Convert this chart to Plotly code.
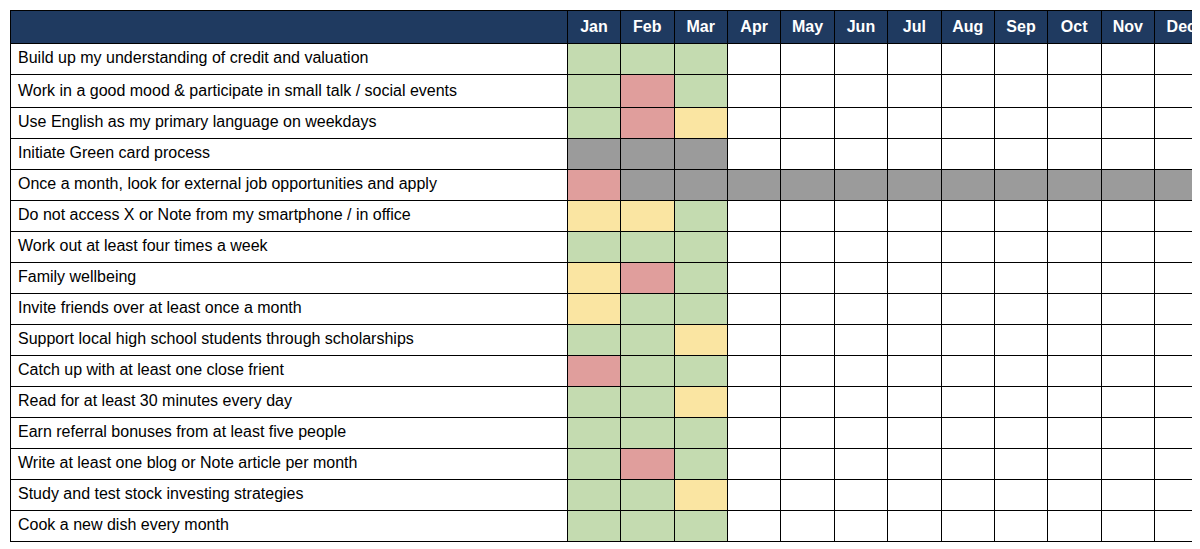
import plotly.graph_objects as go

months = ["Jan", "Feb", "Mar", "Apr", "May", "Jun", "Jul", "Aug", "Sep", "Oct", "Nov", "Dec"]
goals = [
    "Build up my understanding of credit and valuation",
    "Work in a good mood & participate in small talk / social events",
    "Use English as my primary language on weekdays",
    "Initiate Green card process",
    "Once a month, look for external job opportunities and apply",
    "Do not access X or Note from my smartphone / in office",
    "Work out at least four times a week",
    "Family wellbeing",
    "Invite friends over at least once a month",
    "Support local high school students through scholarships",
    "Catch up with at least one close frient",
    "Read for at least 30 minutes every day",
    "Earn referral bonuses from at least five people",
    "Write at least one blog or Note article per month",
    "Study and test stock investing strategies",
    "Cook a new dish every month",
]
# g = achieved, y = partly, r = missed, x = not applicable, "" = not yet
status = [
    "ggg", "grg", "gry", "xxx", "rxxxxxxxxxxx", "yyg", "ggg", "yrg",
    "ygg", "ggy", "rgg", "ggy", "ggg", "grg", "ggy", "ggg",
]

palette = {"g": "#c4dbb0", "y": "#fae5a2", "r": "#e09e9c", "x": "#9b9b9b", "": "white"}

grid = [list(s) + [""] * (12 - len(s)) for s in status]
month_fills = [[palette[grid[r][c]] for r in range(len(goals))] for c in range(12)]
month_text = [["" for _ in goals] for _ in months]

fig = go.Figure(go.Table(
    columnwidth=[550] + [52.7] * 12,
    header=dict(
        values=[""] + [f"<b>{m}</b>" for m in months],
        fill_color="#1f3a60",
        font=dict(color="white", size=16, family="Liberation Sans, Arial"),
        line=dict(color="black", width=1),
        align="center",
        height=31,
    ),
    cells=dict(
        values=[goals] + month_text,
        fill_color=[["white"] * len(goals)] + month_fills,
        font=dict(color="black", size=16, family="Liberation Sans, Arial"),
        line=dict(color="black", width=1),
        align=["left"] + ["center"] * 12,
        height=31,
    ),
    domain=dict(x=[0, 1], y=[0, 1]),
))
fig.update_layout(
    width=1200, height=549,
    margin=dict(l=2, r=0, t=2, b=0),
    paper_bgcolor="white",
)
fig.write_html("out.html")
